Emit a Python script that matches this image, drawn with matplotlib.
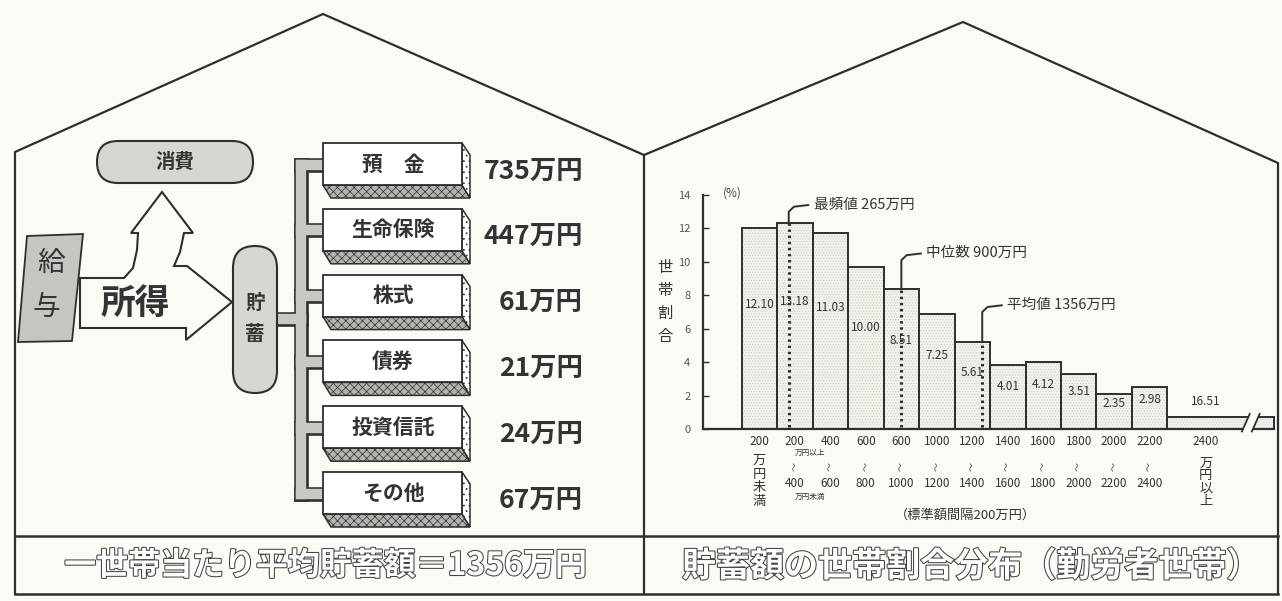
import numpy as np
import matplotlib.pyplot as plt
from matplotlib.patches import Polygon, FancyBboxPatch
import matplotlib.patheffects as pe

plt.rcParams['font.family'] = ['Noto Sans CJK JP', 'DejaVu Sans']
plt.rcParams['hatch.linewidth'] = 0.5
NARROW = ['Liberation Sans Narrow', 'Noto Sans CJK JP', 'DejaVu Sans']

# 左: 一世帯当たり貯蓄の内訳 (万円)
savings_items = ["預　金", "生命保険", "株式", "債券", "投資信託", "その他"]
savings_values = [735, 447, 61, 21, 24, 67]
average_savings = 1356

# 右: 貯蓄額の世帯割合分布 (%)
bin_lower = ["200", "200", "400", "600", "600", "1000", "1200", "1400",
             "1600", "1800", "2000", "2200", "2400"]
bin_upper = ["", "400", "600", "800", "1000", "1200", "1400", "1600",
             "1800", "2000", "2200", "2400", ""]
shares = [12.10, 13.18, 11.03, 10.00, 8.51, 7.25, 5.61, 4.01, 4.12, 3.51,
          2.35, 2.98, 16.51]
# bar heights as they are drawn in the original
drawn_heights = [12.0, 12.3, 11.7, 9.7, 8.4, 6.9, 5.2, 3.8, 4.0, 3.3, 2.1, 2.5, 0.7]
y_ticks = [0, 2, 4, 6, 8, 10, 12, 14]
markers = [("最頻値", 265, 13.0), ("中位数", 900, 10.1), ("平均値", 1356, 7.0)]

INK = "#2e2e2e"
PAPER = "#fbfbf6"

fig = plt.figure(figsize=(12.82, 6.01), dpi=100, facecolor=PAPER)
bg = fig.add_axes([0, 0, 1, 1])
bg.set_xlim(0, 1282)
bg.set_ylim(601, 0)
bg.axis("off")

# 家の形
bg.plot([15, 15, 323, 644, 963, 1278, 1278], [594, 152, 14, 155, 22, 163, 594],
        color=INK, lw=1.6, solid_joinstyle="miter")
bg.plot([644, 644], [155, 594], color=INK, lw=1.6)
bg.plot([15, 1278], [536, 536], color=INK, lw=1.8)
bg.plot([15, 1278], [594, 594], color=INK, lw=1.8)

outline = [pe.withStroke(linewidth=1.5, foreground="#444")]
bg.text(326, 566, f"一世帯当たり平均貯蓄額＝{average_savings}万円", fontsize=23,
        weight="bold", color="white", ha="center", va="center", path_effects=outline)
bg.text(971, 566, "貯蓄額の世帯割合分布（勤労者世帯）", fontsize=24.5,
        weight="bold", color="white", ha="center", va="center", path_effects=outline)

# 左の流れ図
arrow = [(80, 278), (124, 278), (133, 268), (137, 250), (138, 233), (131, 233),
         (162, 192), (193, 233), (184, 233), (180, 252), (174, 266), (187, 266),
         (232, 302), (186, 340), (186, 328), (80, 328)]
bg.add_patch(Polygon(arrow, closed=True, facecolor=PAPER, edgecolor=INK, lw=1.5, zorder=2))
bg.text(135, 303, "所得", fontsize=25, weight="bold", color="#333", ha="center",
        va="center", zorder=3)

bg.add_patch(Polygon([(27, 236), (83, 234), (72, 341), (18, 342)], closed=True,
                     facecolor="#c6c6c0", edgecolor=INK, lw=1.3, zorder=4))
bg.text(51, 263, "給", fontsize=20, color="#333", ha="center", va="center", zorder=5)
bg.text(46, 307, "与", fontsize=20, color="#333", ha="center", va="center", zorder=5)

bg.add_patch(FancyBboxPatch((97, 141), 156, 42, boxstyle="round,pad=0,rounding_size=21",
                            facecolor="#d6d6d1", edgecolor=INK, lw=1.5, zorder=3))
bg.text(175, 162, "消費", fontsize=14, weight="bold", color="#333", ha="center", va="center", zorder=4)

bg.add_patch(FancyBboxPatch((233, 246), 44, 147, boxstyle="round,pad=0,rounding_size=22",
                            facecolor="#d6d6d1", edgecolor=INK, lw=1.5, zorder=3))
bg.text(255, 303, "貯", fontsize=14, weight="bold", color="#333", ha="center", va="center", zorder=4)
bg.text(255, 334, "蓄", fontsize=14, weight="bold", color="#333", ha="center", va="center", zorder=4)

pitch = 65.8
tops = [143 + i * pitch for i in range(len(savings_items))]
branch_y = [t + 21.5 for t in tops]
segments = [([301, 301], [branch_y[0], branch_y[-1]]), ([277, 301], [319, 319])]
segments += [([301, 326], [y, y]) for y in branch_y]
for lw, col in [(10.5, INK), (7.5, "#c8c8c2")]:
    for xs, ys in segments:
        bg.plot(xs, ys, color=col, lw=lw, solid_capstyle="projecting", zorder=1)

for top, item, val in zip(tops, savings_items, savings_values):
    bg.add_patch(Polygon([(323, top + 42), (462, top + 42), (470, top + 55), (331, top + 55)],
                         closed=True, facecolor="#b4b4ae", edgecolor=INK, hatch="xxxx",
                         lw=1.1, zorder=3))
    bg.add_patch(Polygon([(462, top), (470, top + 12), (470, top + 55), (462, top + 42)],
                         closed=True, facecolor="white", edgecolor=INK, hatch="...",
                         lw=1.1, zorder=3))
    bg.add_patch(Polygon([(323, top), (462, top), (462, top + 42), (323, top + 42)],
                         closed=True, facecolor="white", edgecolor=INK, lw=1.3, zorder=4))
    bg.text(393, top + 21, item, fontsize=15, weight="bold", color="#333",
            ha="center", va="center", zorder=5)
    bg.text(583, top + 28, f"{val}万円", fontsize=19, weight="bold", color="#333",
            family=NARROW, ha="right", va="center")

# 右のヒストグラム
ax = fig.add_axes([703 / 1282, 172 / 601, 579 / 1282, 234 / 601])
ax.set_xlim(-1.091, 15.23)
ax.set_ylim(0, 14)
ax.patch.set_alpha(0)
ax.spines["top"].set_visible(False)
ax.spines["right"].set_visible(False)
ax.spines["bottom"].set_bounds(-1.091, 15.0)
for s in ["left", "bottom"]:
    ax.spines[s].set_linewidth(1.6)
    ax.spines[s].set_color(INK)
ax.set_xticks([])
ax.set_yticks(y_ticks)
ax.tick_params(axis="y", direction="in", length=4, width=1, pad=9,
               labelsize=8, labelcolor="#555", color=INK)
for lb in ax.get_yticklabels():
    lb.set_fontfamily(NARROW)

lefts = np.arange(len(shares))
widths = [1] * (len(shares) - 1) + [3]
ax.bar(lefts, drawn_heights, width=widths, align="edge", color="#f2f2ec",
       edgecolor="#cfcfc6", hatch="......", lw=0, zorder=1)
ax.bar(lefts, drawn_heights, width=widths, align="edge", fill=False,
       edgecolor=INK, lw=1.4, zorder=2)

# 省略記号 //
ax.add_patch(Polygon([(14.1, -0.2), (14.38, -0.2), (14.6, 0.95), (14.32, 0.95)],
                     closed=True, facecolor=PAPER, edgecolor="none", zorder=3, clip_on=False))
for x0 in (14.1, 14.38):
    ax.plot([x0, x0 + 0.22], [-0.15, 0.9], color=INK, lw=1.3, zorder=4, clip_on=False)

centers = [l + w / 2 for l, w in zip(lefts, widths)]
centers[-1] = 13.08
for i, (c, h, s) in enumerate(zip(centers, drawn_heights, shares)):
    y = h + 0.95 if i == len(shares) - 1 else 0.6 * h + 0.25
    ax.text(c, y, f"{s:.2f}", fontsize=8.5, color="#333", family=NARROW,
            ha="center", va="center", zorder=5)

for name, v, top in markers:
    x = v / 200
    h = drawn_heights[int(x)]
    ax.plot([x, x], [0.1, h], color=INK, lw=2.2, ls=(0, (0.8, 1.2)), zorder=4)
    ax.plot([x, x, x + 0.15, x + 0.55], [h, top, top + 0.3, top + 0.4],
            color=INK, lw=1.4, zorder=4, clip_on=False)
    ax.text(x + 0.7, top + 0.42, f"{name} {v}万円", fontsize=10.5, color="#333",
            ha="left", va="center", clip_on=False)

ax.text(-0.27, 14.1, "(%)", fontsize=8.5, color="#444", ha="center", va="center", clip_on=False)
ax.text(-2.16, 7.6, "世\n帯\n割\n合", fontsize=11, color="#333", ha="center",
        va="center", linespacing=1.45, clip_on=False)

# 目盛ラベル
for i, c in enumerate(centers):
    ax.text(c, -0.76, bin_lower[i], fontsize=8.5, color="#333", family=NARROW,
            ha="center", va="center", clip_on=False)
    if bin_upper[i]:
        ax.text(c, -2.26, "〜", fontsize=6.5, rotation=90, color="#444",
                ha="center", va="center", clip_on=False)
        ax.text(c, -3.25, bin_upper[i], fontsize=8.5, color="#333", family=NARROW,
                ha="center", va="center", clip_on=False)
ax.text(centers[0], -3.1, "万\n円\n未\n満", fontsize=9.5, color="#333", ha="center",
        va="center", linespacing=1.05, clip_on=False)
ax.text(centers[-1], -3.2, "万\n円\n以\n上", fontsize=9.5, color="#333", ha="center",
        va="center", linespacing=1.0, clip_on=False)
ax.text(1.93, -1.44, "万円以上", fontsize=5.5, color="#333", ha="center", va="center", clip_on=False)
ax.text(1.93, -4.05, "万円未満", fontsize=5.5, color="#333", ha="center", va="center", clip_on=False)
ax.text(6.3, -5.15, "（標準額間隔200万円）", fontsize=9.5, color="#333", ha="center",
        va="center", clip_on=False)

fig.savefig("out.png", dpi=100, facecolor=PAPER)
